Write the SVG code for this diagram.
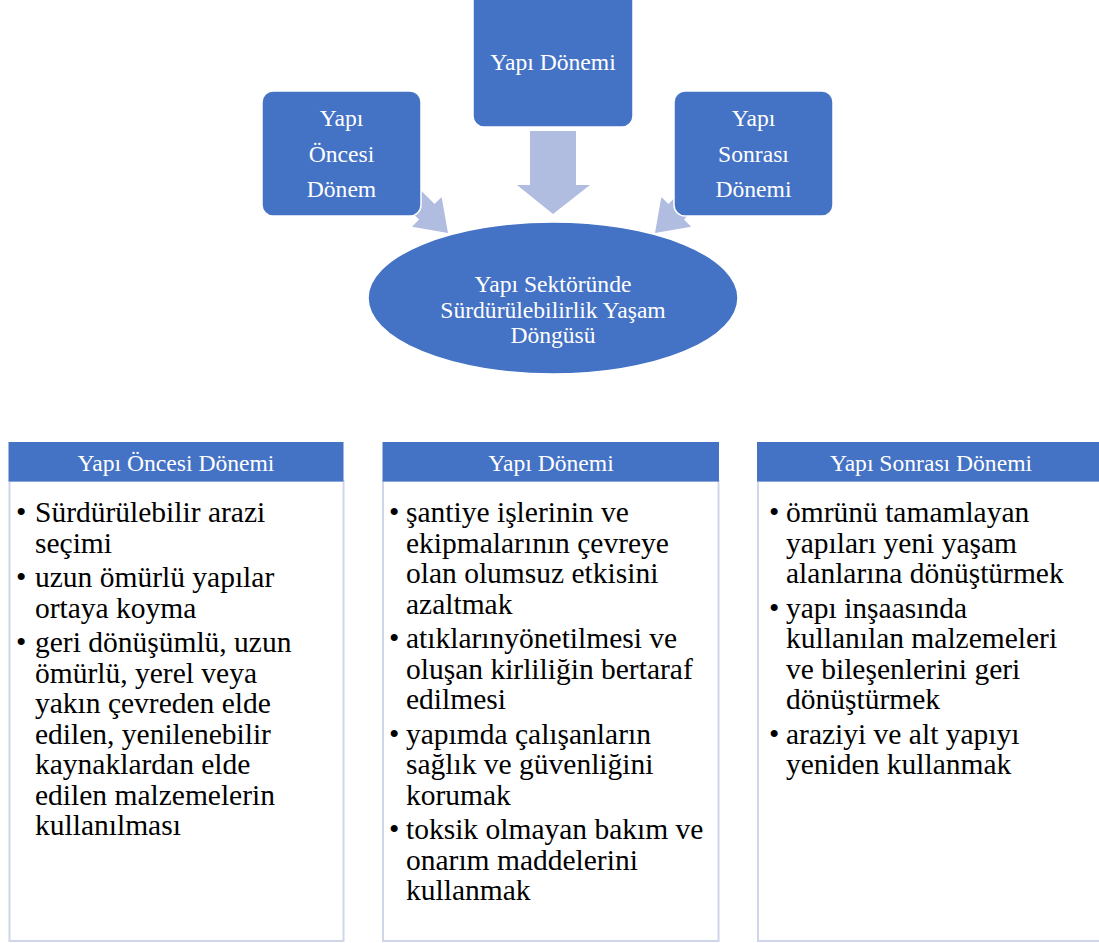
<svg xmlns="http://www.w3.org/2000/svg" width="1099" height="943" viewBox="0 0 1099 943">
  <defs>
    <style>
      .node { fill: #4472C4; stroke: #FFFFFF; stroke-width: 1.5; }
      .flow { fill: #B0BDE0; }
      .lbl { font-size: 23.6px; fill: #FFFFFF; text-anchor: middle; }
      .head { fill: #4472C4; }
      .panel { fill: #FFFFFF; stroke: #CFD6EA; stroke-width: 2; }
      .body { font-size: 29.5px; fill: #000000; }
    </style>
  </defs>
  <rect width="1099" height="943" fill="#FFFFFF"/>

  <!-- block arrows feeding the central cycle -->
  <g id="connectors">
    <path class="flow" d="M530,131 H576 V185 H590 L553,214 L517,185 H530 Z"/>
    <g transform="translate(448,233) rotate(-45)">
      <path class="flow" d="M-11,-62 H11 V-30 H21 L0,0 L-21,-30 H-11 Z"/>
    </g>
    <g transform="translate(655,233) rotate(45)">
      <path class="flow" d="M-11,-62 H11 V-30 H21 L0,0 L-21,-30 H-11 Z"/>
    </g>
  </g>

  <g font-family="Liberation Serif, Tinos, Times New Roman, DejaVu Serif, serif">
  <g id="node-pre">
    <rect class="node" x="262" y="91" width="159" height="125" rx="11"/>
    <text class="lbl" x="341.5" y="126">Yapı</text>
    <text class="lbl" x="341.5" y="161.5">Öncesi</text>
    <text class="lbl" x="341.5" y="197">Dönem</text>
  </g>

  <g id="node-build">
    <rect class="node" x="473" y="-14" width="160" height="141" rx="11"/>
    <text class="lbl" x="553" y="70">Yapı Dönemi</text>
  </g>

  <g id="node-post">
    <rect class="node" x="674" y="91" width="159" height="125" rx="11"/>
    <text class="lbl" x="753.5" y="126">Yapı</text>
    <text class="lbl" x="753.5" y="161.5">Sonrası</text>
    <text class="lbl" x="753.5" y="197">Dönemi</text>
  </g>

  <g id="node-cycle">
    <ellipse class="node" cx="553" cy="298" rx="185" ry="76"/>
    <text class="lbl" x="553" y="292">Yapı Sektöründe</text>
    <text class="lbl" x="553" y="317.5">Sürdürülebilirlik Yaşam</text>
    <text class="lbl" x="553" y="343">Döngüsü</text>
  </g>

  <!-- phase lists -->
  <g id="list-pre">
    <rect class="panel" x="9.5" y="481" width="334" height="460"/>
    <rect class="head" x="8.5" y="442" width="335" height="39.5"/>
    <text class="lbl" x="176" y="471">Yapı Öncesi Dönemi</text>
    <g class="body">
      <text x="16" y="522">•</text>
      <text x="35" y="522">Sürdürülebilir arazi</text>
      <text x="35" y="552.5">seçimi</text>
      <text x="16" y="587">•</text>
      <text x="35" y="587">uzun ömürlü yapılar</text>
      <text x="35" y="617.5">ortaya koyma</text>
      <text x="16" y="652">•</text>
      <text x="35" y="652">geri dönüşümlü, uzun</text>
      <text x="35" y="682.5">ömürlü, yerel veya</text>
      <text x="35" y="713">yakın çevreden elde</text>
      <text x="35" y="743.5">edilen, yenilenebilir</text>
      <text x="35" y="774">kaynaklardan elde</text>
      <text x="35" y="804.5">edilen malzemelerin</text>
      <text x="35" y="835">kullanılması</text>
    </g>
  </g>

  <g id="list-build">
    <rect class="panel" x="383" y="481" width="335.5" height="460"/>
    <rect class="head" x="382.5" y="442" width="336.5" height="39.5"/>
    <text class="lbl" x="551" y="471">Yapı Dönemi</text>
    <g class="body">
      <text x="389" y="522">•</text>
      <text x="406" y="522">şantiye işlerinin ve</text>
      <text x="406" y="552.5">ekipmalarının çevreye</text>
      <text x="406" y="583">olan olumsuz etkisini</text>
      <text x="406" y="613.5">azaltmak</text>
      <text x="389" y="648">•</text>
      <text x="406" y="648">atıklarınyönetilmesi ve</text>
      <text x="406" y="678.5">oluşan kirliliğin bertaraf</text>
      <text x="406" y="709">edilmesi</text>
      <text x="389" y="743.5">•</text>
      <text x="406" y="743.5">yapımda çalışanların</text>
      <text x="406" y="774">sağlık ve güvenliğini</text>
      <text x="406" y="804.5">korumak</text>
      <text x="389" y="839">•</text>
      <text x="406" y="839">toksik olmayan bakım ve</text>
      <text x="406" y="869.5">onarım maddelerini</text>
      <text x="406" y="900">kullanmak</text>
    </g>
  </g>

  <g id="list-post">
    <rect class="panel" x="758" y="481" width="345" height="460"/>
    <rect class="head" x="757" y="442" width="345" height="39.5"/>
    <text class="lbl" x="931" y="471">Yapı Sonrası Dönemi</text>
    <g class="body">
      <text x="769" y="522">•</text>
      <text x="786" y="522">ömrünü tamamlayan</text>
      <text x="786" y="552.5">yapıları yeni yaşam</text>
      <text x="786" y="583">alanlarına dönüştürmek</text>
      <text x="769" y="617.5">•</text>
      <text x="786" y="617.5">yapı inşaasında</text>
      <text x="786" y="648">kullanılan malzemeleri</text>
      <text x="786" y="678.5">ve bileşenlerini geri</text>
      <text x="786" y="709">dönüştürmek</text>
      <text x="769" y="743.5">•</text>
      <text x="786" y="743.5">araziyi ve alt yapıyı</text>
      <text x="786" y="774">yeniden kullanmak</text>
    </g>
  </g>
  </g>
</svg>
